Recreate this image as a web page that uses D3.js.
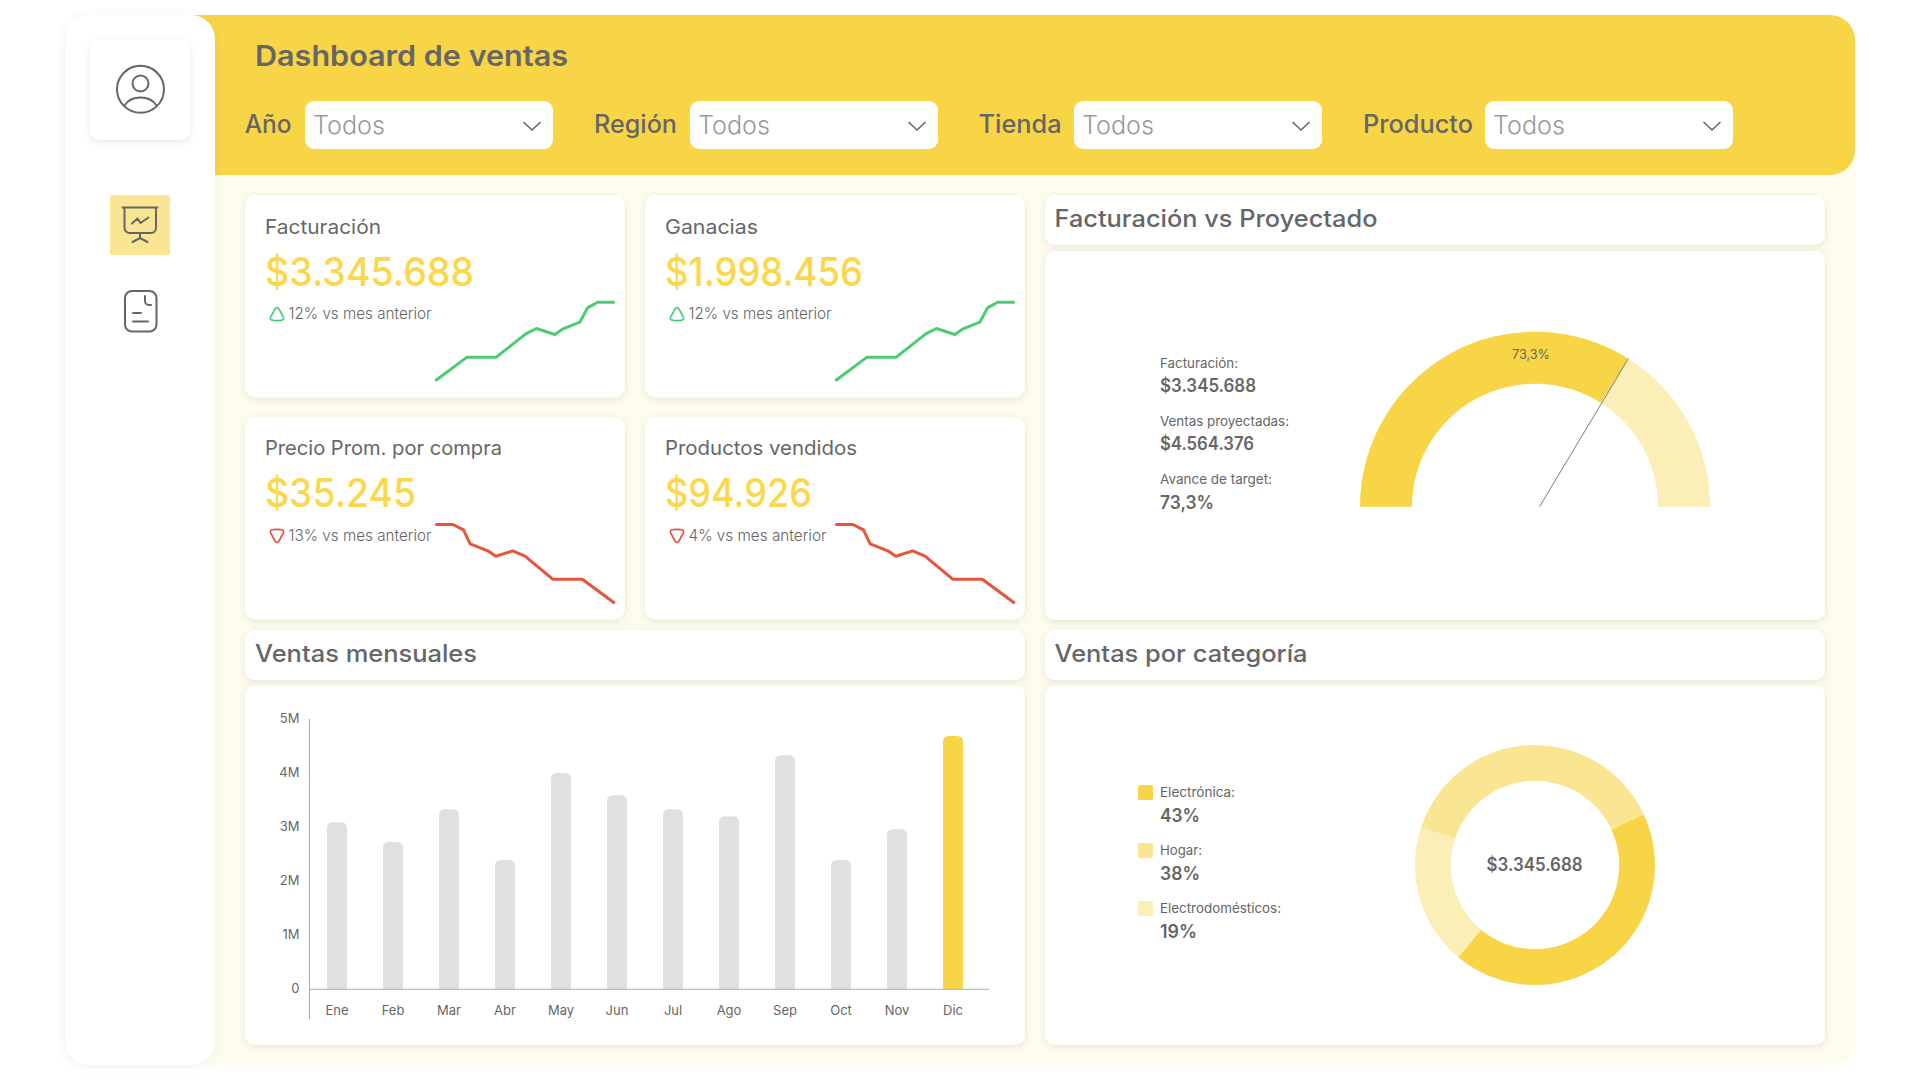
<!DOCTYPE html>
<html lang="es">
<head>
<meta charset="utf-8">
<title>Dashboard de ventas</title>
<script src="https://cdn.jsdelivr.net/npm/d3@7"></script>
<style>
html,body{margin:0;padding:0;background:#fff;width:1920px;height:1080px;overflow:hidden}
svg{display:block}
text{font-family:Inter,"Noto Sans",sans-serif;fill:#666}
</style>
</head>
<body>
<svg id="dash" width="1920" height="1080" viewBox="0 0 1920 1080"></svg>
<script>
// ---- Data ----
const dashboardTitle = "Dashboard de ventas";
const filterLabels = ["Año", "Región", "Tienda", "Producto"];
const filterValue = "Todos";

const kpiTitles = ["Facturación", "Ganacias", "Precio Prom. por compra", "Productos vendidos"];
const kpiValues = ["$3.345.688", "$1.998.456", "$35.245", "$94.926"];
const kpiDeltas = ["12% vs mes anterior", "12% vs mes anterior", "13% vs mes anterior", "4% vs mes anterior"];

const sparkUpX = [0, 17.7, 34, 50.4, 56.3, 66.6, 71.2, 80.5, 84.8, 90.4, 100];
const sparkUpY = [0, 30.1, 30.1, 59.7, 66.5, 58.9, 66.1, 74.6, 92.8, 100, 100];
const sparkDownX = [0, 9.8, 15.7, 19.4, 29.3, 33.7, 43.1, 50, 65.4, 81.9, 100];
const sparkDownY = [100, 100, 93.2, 75.4, 66.5, 59.7, 66.5, 59.7, 30.5, 30.5, 0];

const months = ["Ene", "Feb", "Mar", "Abr", "May", "Jun", "Jul", "Ago", "Sep", "Oct", "Nov", "Dic"];
const monthlySales = [3.09, 2.72, 3.33, 2.39, 4.0, 3.59, 3.33, 3.2, 4.33, 2.39, 2.96, 4.685];
const salesTicks = [0, 1, 2, 3, 4, 5];
const salesTickLabels = ["0", "1M", "2M", "3M", "4M", "5M"];

const gaugeLabels = ["Facturación:", "Ventas proyectadas:", "Avance de target:"];
const gaugeValues = ["$3.345.688", "$4.564.376", "73,3%"];
const gaugeArcShares = [67.9, 32.1];
const gaugeCallout = "73,3%";

const categoryNames = ["Electrónica:", "Hogar:", "Electrodomésticos:"];
const categoryShares = [43, 38, 19];
const categoryLabels = ["43%", "38%", "19%"];
const donutCenter = "$3.345.688";
const panelTitles = ["Facturación vs Proyectado", "Ventas mensuales", "Ventas por categoría"];

// ---- Colours ----
const GOLD = "#F8D546", MID = "#FAE692", PALE = "#FBEEB6", INK = "#666666", KPI = "#FBD84B";
const GREEN = "#4CCB74", RED = "#E8543A", BAR = "#E0E0E0", CREAM = "#FEFCEE";

const svg = d3.select("#dash");
const defs = svg.append("defs");
function shadow(id, dy, blur, op) {
  const f = defs.append("filter").attr("id", id)
    .attr("x", "-15%").attr("y", "-15%").attr("width", "130%").attr("height", "130%");
  f.append("feDropShadow").attr("dx", 0).attr("dy", dy).attr("stdDeviation", blur)
    .attr("flood-color", "#6e6a40").attr("flood-opacity", op);
}
shadow("soft", 2, 3.5, 0.16);
shadow("side", 1, 4, 0.10);

function box(x0, y0, x1, y1, r, fill, filter) {
  const s = svg.append("rect").attr("x", x0).attr("y", y0).attr("width", x1 - x0).attr("height", y1 - y0)
    .attr("rx", r).attr("fill", fill);
  if (filter) s.attr("filter", `url(#${filter})`);
  return s;
}
function label(parent, x, y, str, size, weight, color, width, anchor) {
  const s = parent.append("text").attr("x", x).attr("y", y).attr("dy", "0.36em")
    .attr("font-size", size).attr("font-weight", weight).style("fill", color)
    .attr("text-anchor", anchor || "start").text(str);
  if (width) s.attr("textLength", width).attr("lengthAdjust", "spacingAndGlyphs");
  return s;
}

// ---- Shell ----
box(190, 120, 1855, 1065, 22, CREAM);
svg.append("path").attr("fill", GOLD)
  .attr("d", "M190 15H1830a25 25 0 0 1 25 25V150a25 25 0 0 1-25 25H190Z");
box(65, 15, 215, 1065, 24, "#fff", "side");
box(90, 40, 190, 140, 9, "#fff", "soft");
box(110, 195, 170, 255, 2, MID);

// sidebar icons
const ic = svg.append("g").attr("fill", "none").attr("stroke", INK).attr("stroke-width", 2)
  .attr("stroke-linecap", "round").attr("stroke-linejoin", "round");
ic.append("circle").attr("cx", 140.5).attr("cy", 89.3).attr("r", 23.5);
ic.append("circle").attr("cx", 140.5).attr("cy", 83.5).attr("r", 8);
ic.append("path").attr("d", "M124.5 105.5C128 100 134 97.5 140.5 97.5S153 100 156.5 105.5");
ic.append("path").attr("d", "M122.5 207.5H157.5M124.5 207.5V228a5 5 0 0 0 5 5H151a5 5 0 0 0 5-5V207.5");
ic.append("path").attr("d", "M132 223.5L137.5 218.5L140.5 223L148.5 217.5");
ic.append("path").attr("d", "M140 233V238M132.5 242L140 238L147.5 242");
ic.append("rect").attr("x", 125).attr("y", 291).attr("width", 31.5).attr("height", 40.5).attr("rx", 7);
ic.append("path").attr("d", "M145 296V301a4 4 0 0 0 4 4H151");
ic.append("path").attr("d", "M133 313H141M133 321.5H148");

// ---- Header ----
label(svg, 255, 55.7, dashboardTitle, 28, 600, INK, 313);
const filterLabelX = [244.7, 594, 978.6, 1363];
const filterLabelW = [47, 83, 83, 110];
const selectX = [305, 690, 1074, 1485];
filterLabels.forEach((f, i) => {
  label(svg, filterLabelX[i], 124, f, 25, 500, INK, filterLabelW[i]);
  box(selectX[i], 101, selectX[i] + 248, 149, 9, "#fff");
  label(svg, selectX[i] + 8, 124.5, filterValue, 25, 300, "#999999", 72);
  svg.append("path").attr("fill", "none").attr("stroke", INK).attr("stroke-width", 1.6)
    .attr("d", `M${selectX[i] + 218.5} 122L${selectX[i] + 227} 130L${selectX[i] + 235.5} 122`);
});

// ---- KPI cards ----
const kpiCol = [245, 645, 245, 645];
const cardY = [195, 195, 417, 417];
const titleW = [116, 93, 237, 192];
const valueW = [209, 198, 151, 147];
const deltaW = [143, 143, 143, 138];
const sparkX = d3.scaleLinear().domain([0, 100]);
const sparkY = d3.scaleLinear().domain([0, 100]);
kpiTitles.forEach((t, i) => {
  const x = kpiCol[i], y = cardY[i], up = i < 2, dy = y - 195;
  box(x, y, x + 380, y + 202.5, 11, "#fff", "soft");
  label(svg, x + 20, 227 + dy * 0.995, t, 20, 400, INK, titleW[i]);
  label(svg, x + 20, 272 + dy * 0.995, kpiValues[i], 40, 450, KPI, valueW[i]);
  label(svg, x + 43.5, 313 + dy, kpiDeltas[i], 15.5, 300, INK, deltaW[i]);
  // delta icon
  const ix = x + 32, iy = 314 + dy;
  svg.append("path").attr("fill", "none").attr("stroke-width", 1.7).attr("stroke", up ? GREEN : RED)
    .attr("transform", `translate(${ix},${iy})${up ? "" : " scale(1,-1)"}`)
    .attr("d", "M-1.6 -5.6Q0 -7 1.6 -5.6L6.4 3Q7.6 6 4 6.3Q0 6.8 -4 6.3Q-7.6 6 -6.4 3Z");
  // sparkline
  sparkX.range([x + 190.3, x + 369.8]);
  sparkY.range(up ? [380.8, 302.2] : [603.2, 524.5]);
  const xs = up ? sparkUpX : sparkDownX, ys = up ? sparkUpY : sparkDownY;
  const line = d3.line().x((d, k) => sparkX(xs[k])).y(d => sparkY(d));
  svg.append("path").datum(ys).attr("fill", "none").attr("stroke", up ? GREEN : RED)
    .attr("stroke-width", 3).attr("stroke-linejoin", "round").attr("d", line);
});

// ---- Panel titles & bodies ----
box(1045, 195, 1825, 245, 10, "#fff", "soft");
box(1045, 251, 1825, 620, 10, "#fff", "soft");
box(245, 630, 1025, 680, 10, "#fff", "soft");
box(245, 685.5, 1025, 1045, 10, "#fff", "soft");
box(1045, 630, 1825, 680, 10, "#fff", "soft");
box(1045, 685.5, 1825, 1045, 10, "#fff", "soft");
label(svg, 1054.5, 218.5, panelTitles[0], 24, 500, INK, 323);
label(svg, 255, 653, panelTitles[1], 24, 500, INK, 222);
label(svg, 1054.5, 653, panelTitles[2], 24, 500, INK, 253);

// ---- Gauge ----
const gCx = 1535, gCy = 506.7, gR = 175, gr = 123;
const gaugePie = d3.pie().sort(null).startAngle(-Math.PI / 2).endAngle(Math.PI / 2);
const gaugeArc = d3.arc().innerRadius(gr).outerRadius(gR);
const gauge = svg.append("g").attr("transform", `translate(${gCx},${gCy})`);
const gSlices = gaugePie(gaugeArcShares);
gauge.selectAll("path").data(gSlices).join("path").attr("d", gaugeArc).attr("fill", (d, i) => [GOLD, PALE][i]);
const a = gSlices[0].endAngle;
gauge.append("line").attr("x1", 4.5).attr("y1", 0)
  .attr("x2", gR * Math.sin(a)).attr("y2", -gR * Math.cos(a))
  .attr("stroke", "#7d7d7d").attr("stroke-width", 1);
label(svg, 1531, 354, gaugeCallout, 13, 400, INK, 38, "middle");
const gaugeLabelY = [362.7, 421, 479], gaugeValueY = [386, 444, 502.6];
const gaugeLabelW = [78, 129, 112], gaugeValueW = [96, 94, 54];
gaugeLabels.forEach((t, i) => {
  label(svg, 1160, gaugeLabelY[i], t, 13.5, 400, INK, gaugeLabelW[i]);
  label(svg, 1160, gaugeValueY[i], gaugeValues[i], 18, 600, INK, gaugeValueW[i]);
});

// ---- Monthly bars ----
const yBar = d3.scaleLinear().domain([0, 5]).range([989, 719]);
const xBar = d3.scaleBand().domain(months).range([309, 981]).paddingInner(0.643).paddingOuter(0.3215);
const barG = svg.append("g");
barG.selectAll("path").data(months).join("path")
  .attr("fill", (d, i) => i === months.length - 1 ? GOLD : BAR)
  .attr("d", (m, i) => {
    const x0 = xBar(m), w = xBar.bandwidth(), t = yBar(monthlySales[i]), b = yBar(0), r = 6;
    return `M${x0} ${b}V${t + r}Q${x0} ${t} ${x0 + r} ${t}H${x0 + w - r}Q${x0 + w} ${t} ${x0 + w} ${t + r}V${b}Z`;
  });
const axisY = d3.axisLeft(yBar).tickValues(salesTicks).tickFormat((d, i) => salesTickLabels[i]).tickSize(0).tickPadding(10);
const gy = svg.append("g").attr("transform", "translate(309.5,-1)").call(axisY);
gy.select(".domain").remove();
gy.selectAll("text").attr("font-size", 13).style("font-family", "Inter").style("fill", INK);
const axisX = d3.axisBottom(xBar).tickSize(0).tickPadding(16.5);
const gx = svg.append("g").attr("transform", "translate(0,989.3)").call(axisX);
gx.select(".domain").remove();
gx.selectAll("text").attr("font-size", 13).style("font-family", "Inter").style("fill", INK);
svg.append("line").attr("x1", 309.5).attr("x2", 309.5).attr("y1", 719).attr("y2", 1019).attr("stroke", "#aaaaaa");
svg.append("line").attr("x1", 309).attr("x2", 989).attr("y1", 989.3).attr("y2", 989.3).attr("stroke", "#aaaaaa");

// ---- Donut ----
const donutOrder = [0, 2, 1];
const donutPie = d3.pie().sort(null).value(i => categoryShares[i])
  .startAngle(65 * Math.PI / 180).endAngle((65 + 360) * Math.PI / 180);
const donutArc = d3.arc().innerRadius(84.2).outerRadius(120);
const catColours = [GOLD, MID, PALE];
svg.append("g").attr("transform", "translate(1535,865)")
  .selectAll("path").data(donutPie(donutOrder)).join("path")
  .attr("d", donutArc).attr("fill", d => catColours[d.data]);
label(svg, 1534.6, 864.5, donutCenter, 18, 600, INK, 96, "middle");
const legendY = [792.5, 850.5, 908.5], legendW = [75, 42, 121], legendValW = [40, 40, 37];
categoryNames.forEach((t, i) => {
  box(1138, legendY[i] - 7.5, 1153, legendY[i] + 7.5, 2, catColours[i]);
  label(svg, 1160, legendY[i], t, 13.5, 400, INK, legendW[i]);
  label(svg, 1160, legendY[i] + 23.5, categoryLabels[i], 18, 600, INK, legendValW[i]);
});
</script>
</body>
</html>
